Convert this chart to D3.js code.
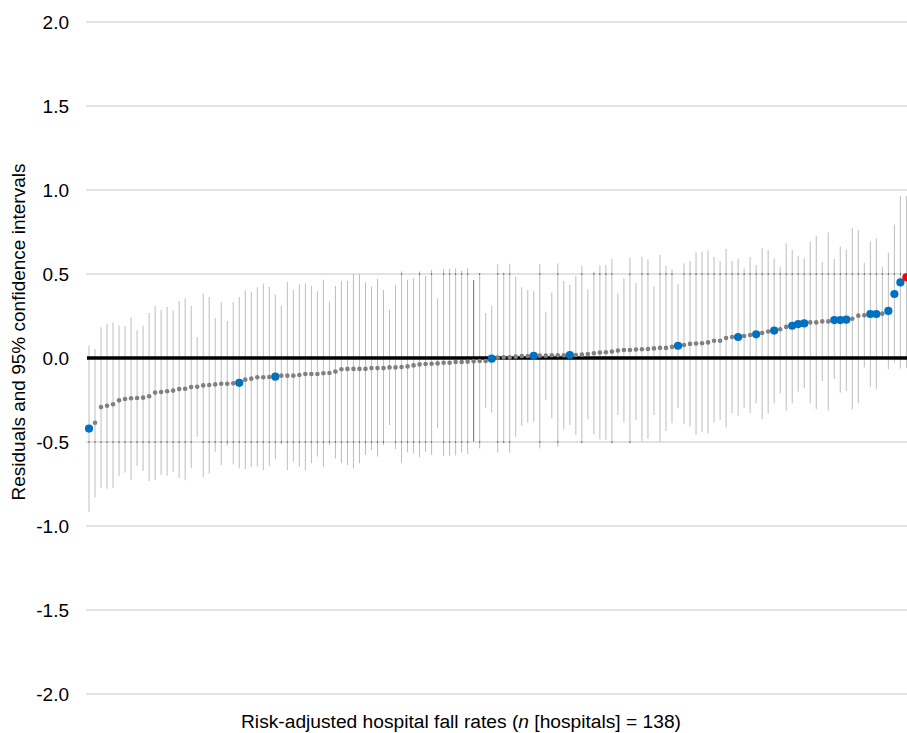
<!DOCTYPE html>
<html>
<head>
<meta charset="utf-8">
<script src="https://cdn.jsdelivr.net/npm/d3@7/dist/d3.min.js"></script>
<style>
  html, body { margin: 0; padding: 0; background: #fff; }
  svg { display: block; font-family: "Liberation Sans", Arial, sans-serif; }
</style>
</head>
<body>
<div id="chart"></div>
<script>
// residuals per hospital, sorted
const residuals = [
  -0.420, -0.385, -0.292, -0.284, -0.276, -0.252, -0.244, -0.240, -0.238, -0.236,
  -0.228, -0.206, -0.202, -0.198, -0.194, -0.185, -0.183, -0.173, -0.171, -0.163,
  -0.161, -0.157, -0.153, -0.153, -0.151, -0.148, -0.129, -0.123, -0.115, -0.115,
  -0.113, -0.111, -0.105, -0.105, -0.105, -0.101, -0.095, -0.095, -0.095, -0.091,
  -0.089, -0.081, -0.067, -0.065, -0.065, -0.065, -0.065, -0.060, -0.060, -0.060,
  -0.056, -0.056, -0.054, -0.050, -0.044, -0.038, -0.036, -0.034, -0.032, -0.028,
  -0.028, -0.024, -0.024, -0.022, -0.020, -0.018, -0.018, -0.004, 0.002, 0.004,
  0.004, 0.008, 0.012, 0.012, 0.013, 0.014, 0.014, 0.016, 0.016, 0.016,
  0.018, 0.018, 0.020, 0.024, 0.028, 0.032, 0.034, 0.038, 0.044, 0.048,
  0.048, 0.051, 0.052, 0.054, 0.057, 0.060, 0.060, 0.066, 0.073, 0.077,
  0.084, 0.086, 0.088, 0.093, 0.103, 0.103, 0.119, 0.125, 0.125, 0.131,
  0.137, 0.141, 0.149, 0.158, 0.163, 0.171, 0.185, 0.192, 0.202, 0.206,
  0.212, 0.212, 0.218, 0.218, 0.226, 0.226, 0.228, 0.234, 0.252, 0.254,
  0.262, 0.262, 0.264, 0.280, 0.381, 0.450, 0.480
];

// upper 95% CI bound
const ciUpper = [
  0.075, 0.054, 0.183, 0.204, 0.212, 0.194, 0.190, 0.242, 0.165, 0.192,
  0.268, 0.311, 0.286, 0.304, 0.282, 0.339, 0.355, 0.310, 0.125, 0.383,
  0.363, 0.238, 0.333, 0.220, 0.335, 0.363, 0.403, 0.393, 0.421, 0.442,
  0.423, 0.377, 0.310, 0.452, 0.405, 0.438, 0.442, 0.429, 0.397, 0.466,
  0.335, 0.429, 0.458, 0.458, 0.500, 0.500, 0.450, 0.425, 0.470, 0.405,
  0.286, 0.433, 0.516, 0.466, 0.474, 0.516, 0.488, 0.524, 0.355, 0.530,
  0.530, 0.534, 0.520, 0.534, 0.464, 0.504, 0.268, 0.310, 0.558, 0.508,
  0.561, 0.484, 0.421, 0.405, 0.397, 0.560, 0.276, 0.389, 0.563, 0.458,
  0.435, 0.488, 0.548, 0.409, 0.514, 0.552, 0.554, 0.589, 0.385, 0.476,
  0.599, 0.446, 0.603, 0.587, 0.427, 0.613, 0.548, 0.528, 0.442, 0.564,
  0.577, 0.630, 0.633, 0.640, 0.601, 0.577, 0.650, 0.577, 0.592, 0.534,
  0.601, 0.554, 0.654, 0.643, 0.593, 0.544, 0.683, 0.643, 0.607, 0.593,
  0.692, 0.728, 0.573, 0.748, 0.589, 0.663, 0.647, 0.772, 0.762, 0.567,
  0.692, 0.712, 0.540, 0.627, 0.794, 0.964, 0.964
];

// lower 95% CI bound
const ciLower = [
  -0.915, -0.830, -0.772, -0.778, -0.772, -0.702, -0.682, -0.726, -0.643, -0.673,
  -0.732, -0.726, -0.696, -0.700, -0.677, -0.714, -0.728, -0.655, -0.468, -0.710,
  -0.689, -0.558, -0.637, -0.522, -0.634, -0.657, -0.663, -0.647, -0.647, -0.667,
  -0.643, -0.601, -0.514, -0.667, -0.617, -0.647, -0.667, -0.627, -0.587, -0.647,
  -0.518, -0.597, -0.627, -0.637, -0.657, -0.627, -0.577, -0.548, -0.587, -0.518,
  -0.399, -0.542, -0.623, -0.562, -0.568, -0.591, -0.558, -0.577, -0.419, -0.583,
  -0.583, -0.580, -0.563, -0.571, -0.498, -0.538, -0.296, -0.325, -0.563, -0.508,
  -0.563, -0.468, -0.403, -0.385, -0.379, -0.538, -0.250, -0.359, -0.528, -0.425,
  -0.399, -0.458, -0.508, -0.365, -0.454, -0.484, -0.488, -0.508, -0.339, -0.383,
  -0.508, -0.370, -0.495, -0.481, -0.340, -0.500, -0.434, -0.387, -0.298, -0.394,
  -0.409, -0.458, -0.440, -0.448, -0.384, -0.370, -0.413, -0.328, -0.344, -0.295,
  -0.328, -0.270, -0.364, -0.330, -0.270, -0.210, -0.313, -0.270, -0.200, -0.181,
  -0.270, -0.304, -0.137, -0.313, -0.125, -0.206, -0.196, -0.306, -0.270, -0.056,
  -0.171, -0.187, 0.012, -0.067, -0.028, -0.063, -0.060
];

// highlighted hospitals (blue) and the focus hospital (red)
const blueIdx = [0, 25, 31, 67, 74, 80, 98, 108, 111, 114, 117, 118, 119, 124, 125, 126, 130, 131, 133, 134, 135];
const redIdx = [136];
const darkCiIdx = [64];

const yTicks = [-2.0, -1.5, -1.0, -0.5, 0.0, 0.5, 1.0, 1.5, 2.0];
const yTitle = "Residuals and 95% confidence intervals";

const width = 907, height = 733;

const data = residuals.map((r, i) => ({
  i, r, lo: ciLower[i], hi: ciUpper[i],
  kind: redIdx.includes(i) ? "red" : blueIdx.includes(i) ? "blue" : "grey"
}));

const svg = d3.select("#chart").append("svg")
  .attr("width", width)
  .attr("height", height);

const x = d3.scalePoint()
  .domain(data.map(d => d.i))
  .range([89, 906.4]);

const y = d3.scaleLinear()
  .domain([-2, 2])
  .range([694, 22]);

// gridlines (zero is drawn later in black)
svg.append("g")
  .selectAll("line")
  .data(yTicks.filter(t => t !== 0))
  .enter().append("line")
  .attr("x1", 86).attr("x2", width)
  .attr("y1", d => y(d)).attr("y2", d => y(d))
  .attr("stroke", "#d9d9d9")
  .attr("stroke-width", 1.5);

// y axis labels, plain hyphen for negatives
const yAxis = d3.axisLeft(y)
  .tickValues(yTicks)
  .tickFormat(d => d.toFixed(1))
  .tickSize(0)
  .tickPadding(0);

svg.append("g")
  .attr("transform", "translate(69,0)")
  .call(yAxis)
  .call(g => g.select(".domain").remove())
  .call(g => g.selectAll("text")
    .attr("font-size", 19)
    .attr("font-family", "Liberation Sans, Arial, sans-serif")
    .attr("fill", "#000"));

// confidence intervals
svg.append("g")
  .selectAll("line")
  .data(data)
  .enter().append("line")
  .attr("x1", d => x(d.i)).attr("x2", d => x(d.i))
  .attr("y1", d => y(d.hi)).attr("y2", d => y(d.lo))
  .attr("stroke", d => darkCiIdx.includes(d.i) ? "#6e6e6e" : "#bdbdbd")
  .attr("stroke-width", 1);

// darker spots where the intervals cross the +/-0.5 gridlines
const crossings = [];
data.forEach(d => {
  [-0.5, 0.5].forEach(g => {
    if (d.lo < g && d.hi > g) crossings.push({ i: d.i, g });
  });
});
svg.append("g")
  .selectAll("rect")
  .data(crossings)
  .enter().append("rect")
  .attr("x", d => x(d.i) - 0.5)
  .attr("y", d => y(d.g) - 1)
  .attr("width", 1)
  .attr("height", 2)
  .attr("fill", "#707070");

// zero line
svg.append("line")
  .attr("x1", 87).attr("x2", width)
  .attr("y1", y(0)).attr("y2", y(0))
  .attr("stroke", "#000")
  .attr("stroke-width", 3.5);

// points: grey first, coloured on top
const order = { grey: 0, blue: 1, red: 2 };
svg.append("g")
  .selectAll("circle")
  .data(data.slice().sort((a, b) => order[a.kind] - order[b.kind]))
  .enter().append("circle")
  .attr("cx", d => x(d.i))
  .attr("cy", d => y(d.r))
  .attr("r", d => d.kind === "grey" ? 2.3 : 4.1)
  .attr("fill", d => d.kind === "red" ? "#ff0000" : d.kind === "blue" ? "#0070c0" : "#808080");

// y title
svg.append("text")
  .attr("transform", "translate(18,332) rotate(-90)")
  .attr("text-anchor", "middle")
  .attr("dominant-baseline", "central")
  .attr("font-size", 19)
  .text(yTitle);

// x title with italic n
const xt = svg.append("text")
  .attr("x", 461)
  .attr("y", 721)
  .attr("text-anchor", "middle")
  .attr("dominant-baseline", "central")
  .attr("font-size", 19.2);
xt.append("tspan").text("Risk-adjusted hospital fall rates (");
xt.append("tspan").attr("font-style", "italic").text("n");
xt.append("tspan").text(" [hospitals] = 138)");
</script>
</body>
</html>
